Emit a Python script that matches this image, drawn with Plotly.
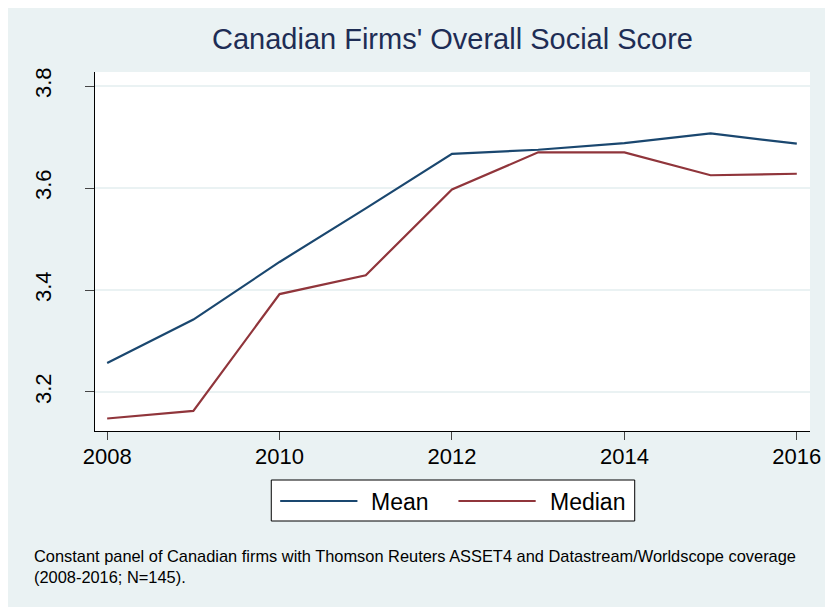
import plotly.graph_objects as go

years = [2008, 2009, 2010, 2011, 2012, 2013, 2014, 2015, 2016]
mean_vals = [3.257, 3.342, 3.455, 3.560, 3.667, 3.675, 3.688, 3.707, 3.687]
median_vals = [3.148, 3.163, 3.392, 3.429, 3.597, 3.670, 3.670, 3.625, 3.628]
x_ticks = [2008, 2010, 2012, 2014, 2016]
y_ticks = [3.2, 3.4, 3.6, 3.8]
series_names = ["Mean", "Median"]
title_text = "Canadian Firms' Overall Social Score"
note_lines = [
    "Constant panel of Canadian firms with Thomson Reuters ASSET4 and Datastream/Worldscope coverage",
    "(2008-2016; N=145).",
]

NAVY = "#1a476f"
MAROON = "#90353b"
BG = "#eaf2f3"
FONT = "Liberation Sans, Arial, sans-serif"

# the page has an 8px body margin; positions below are given in screen pixels
OFF = 8
W, H = 833 - OFF, 607 - OFF
L, R, T, B = 95 - OFF, 817 - OFF, 72 - OFF, 431 - OFF


def px(xs):
    return (xs - OFF - L) / (R - L)


def py(ys):
    return (B - (ys - OFF)) / (B - T)


fig = go.Figure()
fig.add_trace(go.Scatter(x=years, y=mean_vals, mode="lines", name=series_names[0],
                         line=dict(color=NAVY, width=2.2), showlegend=False))
fig.add_trace(go.Scatter(x=years, y=median_vals, mode="lines", name=series_names[1],
                         line=dict(color=MAROON, width=2.2), showlegend=False))

shapes = [
    # legend box
    dict(type="rect", xref="paper", yref="paper", x0=px(273), x1=px(640), y0=py(521), y1=py(480),
         fillcolor="white", line=dict(color="black", width=1)),
    dict(type="line", xref="paper", yref="paper", x0=px(282), x1=px(360), y0=py(501), y1=py(501),
         line=dict(color=NAVY, width=2.2)),
    dict(type="line", xref="paper", yref="paper", x0=px(462), x1=px(540), y0=py(501), y1=py(501),
         line=dict(color=MAROON, width=2.2)),
]

annotations = [
    dict(text=series_names[0], xref="paper", yref="paper", x=px(372), y=py(502),
         xanchor="left", yanchor="middle", showarrow=False,
         font=dict(family=FONT, size=23, color="black")),
    dict(text=series_names[1], xref="paper", yref="paper", x=px(552), y=py(502),
         xanchor="left", yanchor="middle", showarrow=False,
         font=dict(family=FONT, size=23, color="black")),
    dict(text="<br>".join(note_lines), xref="paper", yref="paper", x=px(31), y=py(566),
         xanchor="left", yanchor="middle", align="left", showarrow=False,
         font=dict(family=FONT, size=16.4, color="black")),
]

fig.update_layout(
    width=W, height=H,
    margin=dict(l=L, r=W - R, t=T, b=H - B, pad=0),
    paper_bgcolor=BG,
    plot_bgcolor="white",
    showlegend=False,
    title=dict(text=title_text, x=0.5, xref="paper", xanchor="center",
               y=1 - (38.5 - OFF) / H, yref="container", yanchor="middle",
               font=dict(family=FONT, size=29, color="#1e2d55")),
    shapes=shapes,
    annotations=annotations,
    font=dict(family=FONT, color="black"),
)

fig.update_xaxes(
    range=[2007.859, 2016.153], tickvals=x_ticks, ticktext=[str(v) for v in x_ticks],
    showgrid=False, zeroline=False, showline=True, linecolor="black", linewidth=1.3,
    ticks="outside", ticklen=8, tickwidth=1, tickcolor="#444",
    tickfont=dict(family=FONT, size=22, color="black"), ticklabelstandoff=-3,
)
fig.update_yaxes(
    range=[3.1235, 3.8275], tickvals=y_ticks, ticktext=[f"{v:.1f}" for v in y_ticks],
    showgrid=True, gridcolor=BG, gridwidth=1.5, zeroline=False,
    showline=True, linecolor="black", linewidth=1.3,
    ticks="outside", ticklen=9, tickwidth=1, tickcolor="#444",
    tickangle=-90, tickfont=dict(family=FONT, size=22, color="black"), ticklabelstandoff=25,
)

fig.write_html("out.html")
